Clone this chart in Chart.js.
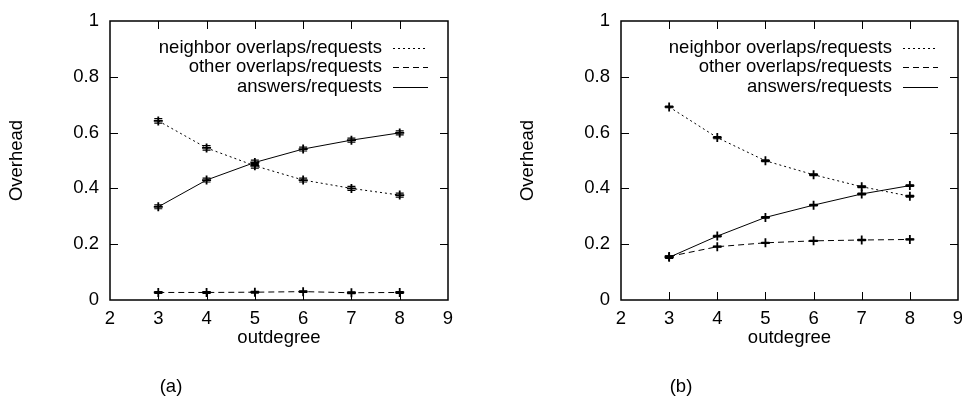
<!DOCTYPE html>
<html>
<head>
<meta charset="utf-8">
<script src="https://cdn.jsdelivr.net/npm/chart.js@4.4.1/dist/chart.umd.min.js"></script>
<style>
  html, body { margin: 0; padding: 0; background: #fff; }
  #wrap { position: relative; width: 962px; height: 399px; overflow: hidden; }
  canvas { position: absolute; top: 0; }
  #chartA { left: 0; }
  #chartB { left: 481px; }
</style>
</head>
<body>
<div id="wrap">
  <canvas id="chartA" width="481" height="399"></canvas>
  <canvas id="chartB" width="481" height="399"></canvas>
</div>
<script>
// outdegree on the x axis, overhead ratios on y
var outdegree = [3, 4, 5, 6, 7, 8];
var xTicks = [2, 3, 4, 5, 6, 7, 8, 9];
var yTicks = [0, 0.2, 0.4, 0.6, 0.8, 1];
var seriesNames = ["neighbor overlaps/requests", "other overlaps/requests", "answers/requests"];

// panel (a)
var neighborA = [0.642, 0.545, 0.481, 0.430, 0.400, 0.376];
var otherA = [0.027, 0.027, 0.028, 0.030, 0.026, 0.027];
var answersA = [0.334, 0.430, 0.493, 0.541, 0.573, 0.599];
var neighborErrA = [0.008, 0.008, 0.008, 0.007, 0.007, 0.007];
var otherErrA = [0.003, 0.003, 0.003, 0.003, 0.003, 0.003];
var answersErrA = [0.007, 0.007, 0.008, 0.007, 0.007, 0.007];

// panel (b)
var neighborB = [0.692, 0.582, 0.499, 0.449, 0.406, 0.372];
var otherB = [0.156, 0.191, 0.205, 0.212, 0.215, 0.217];
var answersB = [0.153, 0.229, 0.296, 0.340, 0.380, 0.410];
var neighborErrB = [0.003, 0.004, 0.003, 0.003, 0.003, 0.003];
var otherErrB = [0.002, 0.002, 0.002, 0.002, 0.002, 0.002];
var answersErrB = [0.004, 0.003, 0.003, 0.003, 0.003, 0.003];

var FONT = "Liberation Sans, Arial, Helvetica, sans-serif";
var FS = 18.5;
var dashes = [[2, 3], [6, 4], []];

function pts(ys) {
  return outdegree.map(function (x, i) {
    return { x: x, y: ys[i] };
  });
}

function makeDataset(label, ys, errs, dash) {
  return {
    label: label,
    data: pts(ys),
    errs: errs,
    borderColor: "#000",
    borderWidth: 1,
    borderDash: dash,
    pointStyle: "cross",
    pointRadius: 4.5,
    pointBorderWidth: 1.8,
    pointBorderColor: "#000",
    pointBackgroundColor: "#000",
    fill: false,
    tension: 0,
  };
}

// gnuplot-like frame: full border, inward ticks on all sides, key, caption
var gnuFrame = {
  id: "gnuFrame",
  afterDatasetsDraw: function (chart) {
    var ctx = chart.ctx;
    var ys = chart.scales.y;
    var xs = chart.scales.x;
    ctx.save();
    ctx.strokeStyle = "#000";
    ctx.lineWidth = 1.2;
    chart.data.datasets.forEach(function (ds) {
      ds.data.forEach(function (p, i) {
        var e = ds.errs[i];
        var px = xs.getPixelForValue(p.x);
        var lo = ys.getPixelForValue(p.y - e);
        var hi = ys.getPixelForValue(p.y + e);
        ctx.beginPath();
        ctx.moveTo(px, lo);
        ctx.lineTo(px, hi);
        ctx.moveTo(px - 4, lo);
        ctx.lineTo(px + 4, lo);
        ctx.moveTo(px - 4, hi);
        ctx.lineTo(px + 4, hi);
        ctx.stroke();
      });
    });
    ctx.restore();
  },
  afterDraw: function (chart, args, opts) {
    var ctx = chart.ctx;
    var a = chart.chartArea;
    var xs = chart.scales.x;
    var ys = chart.scales.y;
    ctx.save();
    ctx.strokeStyle = "#000";
    ctx.lineWidth = 1.5;
    ctx.strokeRect(a.left, a.top, a.right - a.left, a.bottom - a.top);

    ctx.lineWidth = 1;
    ctx.beginPath();
    yTicks.slice(1, -1).forEach(function (v) {
      var py = Math.round(ys.getPixelForValue(v)) + 0.5;
      ctx.moveTo(a.left, py);
      ctx.lineTo(a.left + 8, py);
      ctx.moveTo(a.right, py);
      ctx.lineTo(a.right - 8, py);
    });
    xTicks.slice(1, -1).forEach(function (v) {
      var px = Math.round(xs.getPixelForValue(v)) + 0.5;
      ctx.moveTo(px, a.bottom);
      ctx.lineTo(px, a.bottom - 8);
      ctx.moveTo(px, a.top);
      ctx.lineTo(px, a.top + 8);
    });
    ctx.stroke();

    // key in the upper right corner
    ctx.font = FS + "px " + FONT;
    ctx.fillStyle = "#000";
    ctx.textAlign = "right";
    ctx.textBaseline = "middle";
    var rowY = [27, 46, 66];
    seriesNames.forEach(function (name, i) {
      var y = a.top + rowY[i];
      ctx.fillText(name, a.right - 66, y);
      ctx.beginPath();
      ctx.setLineDash(dashes[i]);
      ctx.moveTo(a.right - 55, Math.round(y) + 0.5);
      ctx.lineTo(a.right - 20, Math.round(y) + 0.5);
      ctx.stroke();
    });
    ctx.setLineDash([]);

    ctx.textAlign = "center";
    ctx.fillText(opts.caption, opts.captionX, 387);
    ctx.restore();
  },
};

function makeChart(id, caption, captionX, padLeft, padRight, sets) {
  var ctx = document.getElementById(id).getContext("2d");
  return new Chart(ctx, {
    type: "line",
    data: {
      datasets: [
        makeDataset(seriesNames[0], sets[0], sets[3], dashes[0]),
        makeDataset(seriesNames[1], sets[1], sets[4], dashes[1]),
        makeDataset(seriesNames[2], sets[2], sets[5], dashes[2]),
      ],
    },
    options: {
      responsive: false,
      devicePixelRatio: 1,
      animation: false,
      layout: {
        autoPadding: false,
        padding: { left: padLeft, right: padRight, top: 21, bottom: 50 },
      },
      scales: {
        x: {
          type: "linear",
          min: 2,
          max: 9,
          grid: { display: false, drawTicks: false },
          border: { display: false },
          ticks: {
            stepSize: 1,
            autoSkip: false,
            maxRotation: 0,
            padding: 8,
            color: "#000",
            font: { family: FONT, size: FS },
          },
          title: {
            display: true,
            text: "outdegree",
            color: "#000",
            padding: 0,
            font: { family: FONT, size: FS },
          },
          afterFit: function (s) {
            s.height = 49;
            s.paddingLeft = 0;
            s.paddingRight = 0;
          },
        },
        y: {
          min: 0,
          max: 1,
          grid: { display: false, drawTicks: false },
          border: { display: false },
          ticks: {
            stepSize: 0.2,
            padding: 11,
            color: "#000",
            font: { family: FONT, size: FS },
            callback: function (v) {
              return String(Math.round(v * 10) / 10);
            },
          },
          title: {
            display: true,
            text: "Overhead",
            color: "#000",
            padding: { top: 6, bottom: 0 },
            font: { family: FONT, size: FS },
          },
          afterFit: function (s) {
            s.width = 110;
            s.paddingTop = 0;
            s.paddingBottom = 0;
          },
        },
      },
      plugins: {
        legend: { display: false },
        tooltip: { enabled: false },
        gnuFrame: { caption: caption, captionX: captionX },
      },
    },
    plugins: [gnuFrame],
  });
}

makeChart("chartA", "(a)", 171, 0, 33, [neighborA, otherA, answersA, neighborErrA, otherErrA, answersErrA]);
makeChart("chartB", "(b)", 200, 30, 4, [neighborB, otherB, answersB, neighborErrB, otherErrB, answersErrB]);
</script>
</body>
</html>
